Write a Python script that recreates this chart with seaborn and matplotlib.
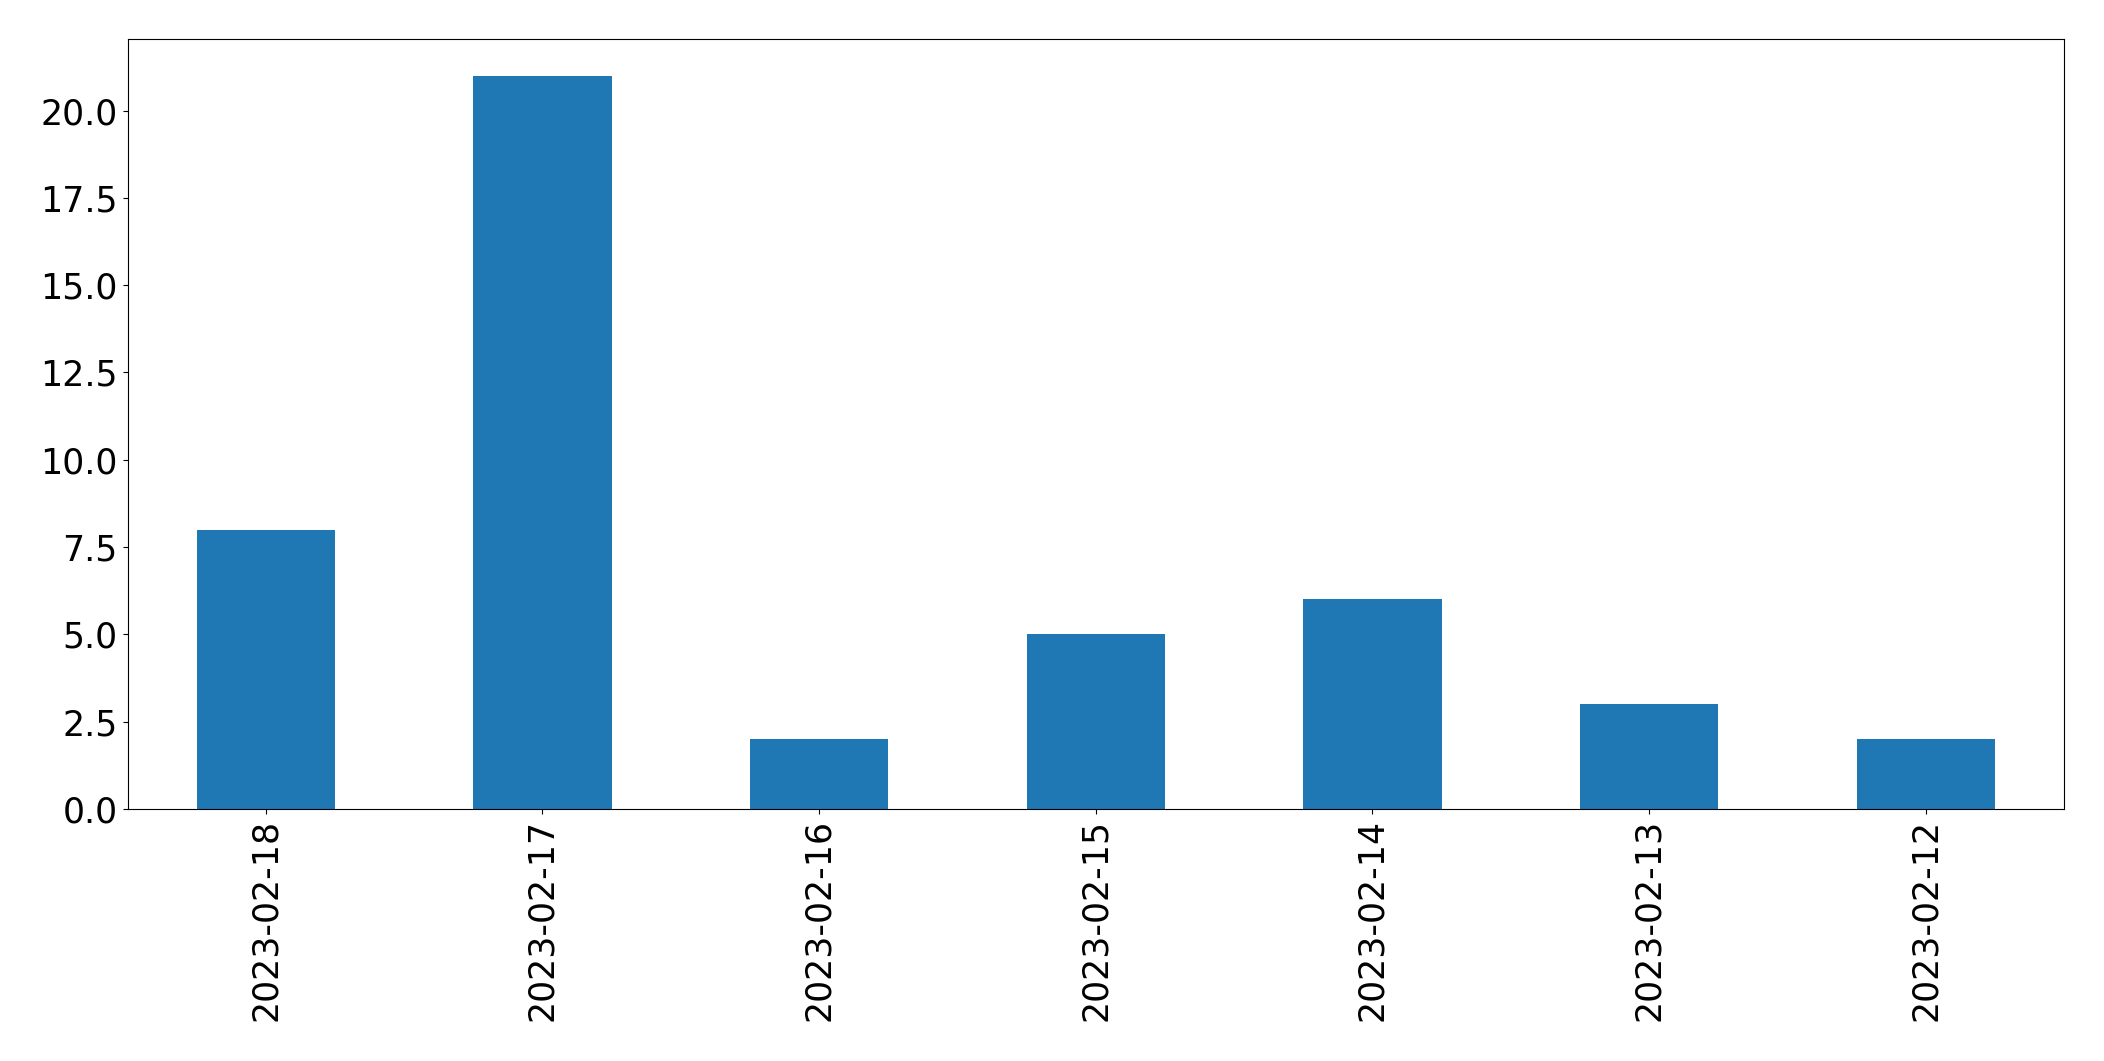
import matplotlib
matplotlib.use("Agg")
import matplotlib.pyplot as plt
import pandas as pd
import seaborn as sns

dates = ["2023-02-18", "2023-02-17", "2023-02-16", "2023-02-15",
         "2023-02-14", "2023-02-13", "2023-02-12"]
counts = [8, 21, 2, 5, 6, 3, 2]

df = pd.DataFrame({"date": dates, "count": counts})

fig = plt.figure(figsize=(21.04, 10.61), dpi=100)
ax = fig.add_axes([127.5 / 2104, 252 / 1061, 1936.5 / 2104, 770 / 1061])

sns.barplot(data=df, x="date", y="count", ax=ax, color="#1f77b4",
            saturation=1, width=0.5, order=dates)

ax.set_xlim(-0.5, len(dates) - 0.5)
ax.set_ylim(0, max(counts) * 1.05)
ax.set_yticks([0, 2.5, 5, 7.5, 10, 12.5, 15, 17.5, 20])
ax.set_yticklabels([f"{v:.1f}" for v in [0, 2.5, 5, 7.5, 10, 12.5, 15, 17.5, 20]])
ax.set_xlabel("")
ax.set_ylabel("")
ax.tick_params(axis="both", labelsize=25)
plt.setp(ax.get_xticklabels(), rotation=90)

fig.savefig("out.png", dpi=100)
